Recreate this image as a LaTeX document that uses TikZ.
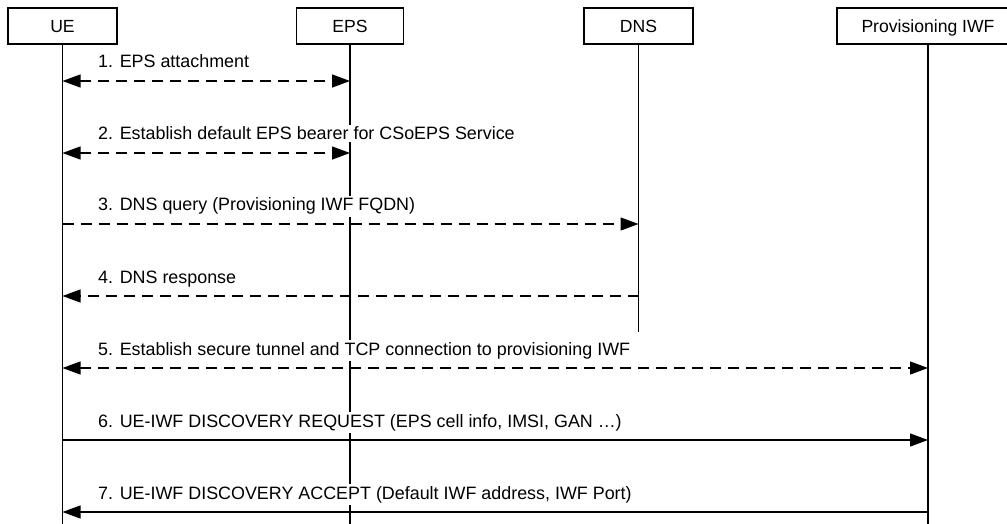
\documentclass[tikz,border=0pt]{standalone}
\usepackage{fontspec}
\setmainfont{Liberation Sans}
\usetikzlibrary{arrows.meta}
\begin{document}
\begin{tikzpicture}[x=1pt,y=-1pt,
  entity/.style={draw,line width=1.1pt,minimum height=36pt,inner sep=0pt,
    text height=14pt,text depth=0pt,
    font=\fontsize{17.6}{20}\selectfont},
  lifeline/.style={line width=1.3pt},
  msg/.style={line width=1.3pt,-{Triangle[length=18pt,width=13pt]}},
  bimsg/.style={line width=1.3pt,{Triangle[length=18pt,width=13pt]}-{Triangle[length=18pt,width=13pt]}},
  dashmsg/.style={dash pattern=on 11pt off 7pt},
  msglabel/.style={anchor=base west,fill=white,inner sep=2pt,
    font=\fontsize{17.9}{20}\selectfont}]
\useasboundingbox (0,0) rectangle (1007,524);
\begin{scope}
\clip (0,0) rectangle (1007,524);

% participants
\node[entity,minimum width=109pt] (ue)   at (62.5,26) {UE};
\node[entity,minimum width=107pt] (eps)  at (350,26)  {EPS};
\node[entity,minimum width=109pt] (dns)  at (638.5,26) {DNS};
\node[entity,minimum width=182pt] (piwf) at (928,26)  {Provisioning IWF};

% lifeline ends
\coordinate (ueEnd)   at (62.5,524);
\coordinate (epsEnd)  at (350,524);
\coordinate (dnsEnd)  at (638.5,332);
\coordinate (piwfEnd) at (928,524);

\draw[lifeline] (ue.south)   -- (ueEnd);
\draw[lifeline] (eps.south)  -- (epsEnd);
\draw[lifeline] (dns.south)  -- (dnsEnd);
\draw[lifeline] (piwf.south) -- (piwfEnd);

% message rows
\foreach \i/\y in {1/81,2/153,3/224,4/296,5/368,6/440,7/512}{
  \coordinate (ue\i)   at (62.5,\y);
  \coordinate (eps\i)  at (350,\y);
  \coordinate (dns\i)  at (638.5,\y);
  \coordinate (piwf\i) at (928,\y);
  \coordinate (lab\i)  at (96,\y-13);
}

% labels
\node[msglabel] (l1) at (lab1) {1. EPS attachment};
\node[msglabel] (l2) at (lab2) {2. Establish default EPS bearer for CSoEPS Service};
\node[msglabel] (l3) at (lab3) {3. DNS query (Provisioning IWF FQDN)};
\node[msglabel] (l4) at (lab4) {4. DNS response};
\node[msglabel] (l5) at (lab5) {5. Establish secure tunnel and TCP connection to provisioning IWF};
\node[msglabel] (l6) at (lab6) {6. UE-IWF DISCOVERY REQUEST (EPS cell info, IMSI, GAN …)};
\node[msglabel] (l7) at (lab7) {7. UE-IWF DISCOVERY ACCEPT (Default IWF address, IWF Port)};

% messages
\draw[bimsg,dashmsg] (ue1) -- (eps1);
\draw[bimsg,dashmsg] (ue2) -- (eps2);
\draw[msg,dashmsg]   (ue3) -- (dns3);
\draw[msg,dashmsg]   (dns4) -- (ue4);
\draw[bimsg,dashmsg] (ue5) -- (piwf5);
\draw[msg]           (ue6) -- (piwf6);
\draw[msg]           (piwf7) -- (ue7);
\end{scope}
\end{tikzpicture}
\end{document}
